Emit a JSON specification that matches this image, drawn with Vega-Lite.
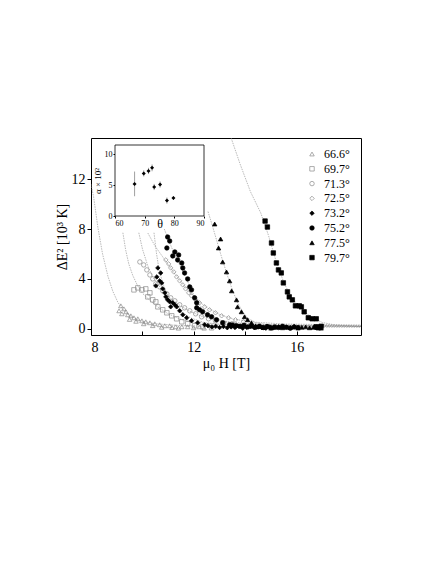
{
  "$schema": "https://vega.github.io/schema/vega-lite/v6.json",
  "width": 270,
  "height": 197,
  "autosize": {"type": "none"},
  "padding": {"left": 91, "top": 138, "right": 75, "bottom": 229},
  "background": "white",
  "config": {
    "font": "Liberation Serif",
    "view": {"stroke": "black", "strokeWidth": 1},
    "axis": {"labelFont": "Liberation Serif", "titleFont": "Liberation Serif", "labelColor": "black", "titleColor": "black", "tickColor": "black", "domainColor": "black", "grid": false, "titleFontWeight": "normal"},
    "legend": {"labelFont": "Liberation Serif", "labelColor": "black"}
  },
  "datasets": {
    "pts": [
      {"angle": "66.6°", "H": 9.16, "E2": 1.84}, {"angle": "66.6°", "H": 9.28, "E2": 1.6}, {"angle": "66.6°", "H": 9.09, "E2": 1.44}, {"angle": "66.6°", "H": 9.36, "E2": 1.36}, {"angle": "66.6°", "H": 9.43, "E2": 1.12}, {"angle": "66.6°", "H": 9.55, "E2": 1.04}, {"angle": "66.6°", "H": 9.67, "E2": 0.88}, {"angle": "66.6°", "H": 9.82, "E2": 0.8}, {"angle": "66.6°", "H": 9.98, "E2": 0.64}, {"angle": "66.6°", "H": 10.13, "E2": 0.56}, {"angle": "66.6°", "H": 10.29, "E2": 0.48}, {"angle": "66.6°", "H": 10.48, "E2": 0.4}, {"angle": "66.6°", "H": 10.67, "E2": 0.32}, {"angle": "66.6°", "H": 10.87, "E2": 0.24}, {"angle": "66.6°", "H": 11.06, "E2": 0.24}, {"angle": "66.6°", "H": 11.29, "E2": 0.16}, {"angle": "66.6°", "H": 11.53, "E2": 0.16}, {"angle": "66.6°", "H": 11.76, "E2": 0.16}, {"angle": "66.6°", "H": 11.99, "E2": 0.08}, {"angle": "66.6°", "H": 12.22, "E2": 0.16}, {"angle": "66.6°", "H": 9.2, "E2": 1.2}, {"angle": "66.6°", "H": 9.5, "E2": 0.75}, {"angle": "66.6°", "H": 9.75, "E2": 0.6}, {"angle": "66.6°", "H": 10.05, "E2": 0.4}, {"angle": "66.6°", "H": 10.4, "E2": 0.25}, {"angle": "66.6°", "H": 10.75, "E2": 0.12}, {"angle": "66.6°", "H": 11.15, "E2": 0.1}, {"angle": "66.6°", "H": 11.4, "E2": 0.05}, {"angle": "66.6°", "H": 12.4, "E2": 0.05},
      {"angle": "69.7°", "H": 9.67, "E2": 3.12}, {"angle": "69.7°", "H": 9.82, "E2": 3.28}, {"angle": "69.7°", "H": 9.98, "E2": 3.12}, {"angle": "69.7°", "H": 10.13, "E2": 3.2}, {"angle": "69.7°", "H": 10.29, "E2": 2.88}, {"angle": "69.7°", "H": 10.21, "E2": 2.56}, {"angle": "69.7°", "H": 10.4, "E2": 2.32}, {"angle": "69.7°", "H": 10.52, "E2": 2.16}, {"angle": "69.7°", "H": 10.6, "E2": 1.76}, {"angle": "69.7°", "H": 10.79, "E2": 1.52}, {"angle": "69.7°", "H": 10.95, "E2": 1.28}, {"angle": "69.7°", "H": 11.14, "E2": 1.04}, {"angle": "69.7°", "H": 11.33, "E2": 0.8}, {"angle": "69.7°", "H": 11.53, "E2": 0.56}, {"angle": "69.7°", "H": 11.76, "E2": 0.4}, {"angle": "69.7°", "H": 12.03, "E2": 0.24}, {"angle": "69.7°", "H": 12.34, "E2": 0.16}, {"angle": "69.7°", "H": 12.69, "E2": 0.08},
      {"angle": "71.3°", "H": 9.9, "E2": 5.36}, {"angle": "71.3°", "H": 10.05, "E2": 5.12}, {"angle": "71.3°", "H": 10.17, "E2": 4.72}, {"angle": "71.3°", "H": 10.29, "E2": 4.32}, {"angle": "71.3°", "H": 10.4, "E2": 4.0}, {"angle": "71.3°", "H": 10.52, "E2": 3.6}, {"angle": "71.3°", "H": 10.67, "E2": 3.36}, {"angle": "71.3°", "H": 10.79, "E2": 3.04}, {"angle": "71.3°", "H": 10.95, "E2": 2.8}, {"angle": "71.3°", "H": 11.1, "E2": 2.48}, {"angle": "71.3°", "H": 11.26, "E2": 2.24}, {"angle": "71.3°", "H": 11.45, "E2": 1.92}, {"angle": "71.3°", "H": 11.64, "E2": 1.68}, {"angle": "71.3°", "H": 11.84, "E2": 1.44}, {"angle": "71.3°", "H": 12.07, "E2": 1.2}, {"angle": "71.3°", "H": 12.3, "E2": 0.96}, {"angle": "71.3°", "H": 12.57, "E2": 0.8}, {"angle": "71.3°", "H": 12.84, "E2": 0.64}, {"angle": "71.3°", "H": 13.16, "E2": 0.48}, {"angle": "71.3°", "H": 13.5, "E2": 0.4},
      {"angle": "72.5°", "H": 10.91, "E2": 5.52}, {"angle": "72.5°", "H": 11.02, "E2": 5.2}, {"angle": "72.5°", "H": 11.1, "E2": 4.88}, {"angle": "72.5°", "H": 11.22, "E2": 4.56}, {"angle": "72.5°", "H": 11.33, "E2": 4.16}, {"angle": "72.5°", "H": 11.45, "E2": 3.84}, {"angle": "72.5°", "H": 11.57, "E2": 3.52}, {"angle": "72.5°", "H": 11.68, "E2": 3.2}, {"angle": "72.5°", "H": 11.8, "E2": 2.88}, {"angle": "72.5°", "H": 11.91, "E2": 2.64}, {"angle": "72.5°", "H": 12.07, "E2": 2.32}, {"angle": "72.5°", "H": 12.22, "E2": 2.08}, {"angle": "72.5°", "H": 12.42, "E2": 1.76}, {"angle": "72.5°", "H": 12.61, "E2": 1.52}, {"angle": "72.5°", "H": 12.84, "E2": 1.28}, {"angle": "72.5°", "H": 13.08, "E2": 1.04}, {"angle": "72.5°", "H": 13.35, "E2": 0.88}, {"angle": "72.5°", "H": 13.62, "E2": 0.72}, {"angle": "72.5°", "H": 13.93, "E2": 0.56},
      {"angle": "73.2°", "H": 10.6, "E2": 4.88}, {"angle": "73.2°", "H": 10.71, "E2": 4.48}, {"angle": "73.2°", "H": 10.56, "E2": 4.16}, {"angle": "73.2°", "H": 10.67, "E2": 3.84}, {"angle": "73.2°", "H": 10.75, "E2": 3.68}, {"angle": "73.2°", "H": 10.52, "E2": 3.44}, {"angle": "73.2°", "H": 10.79, "E2": 3.2}, {"angle": "73.2°", "H": 10.87, "E2": 2.88}, {"angle": "73.2°", "H": 10.91, "E2": 2.56}, {"angle": "73.2°", "H": 10.98, "E2": 2.32}, {"angle": "73.2°", "H": 11.06, "E2": 2.16}, {"angle": "73.2°", "H": 11.18, "E2": 2.08}, {"angle": "73.2°", "H": 11.26, "E2": 1.92}, {"angle": "73.2°", "H": 11.1, "E2": 1.76}, {"angle": "73.2°", "H": 11.33, "E2": 1.76}, {"angle": "73.2°", "H": 11.45, "E2": 1.44}, {"angle": "73.2°", "H": 11.57, "E2": 1.12}, {"angle": "73.2°", "H": 11.72, "E2": 0.88}, {"angle": "73.2°", "H": 11.91, "E2": 0.64}, {"angle": "73.2°", "H": 12.15, "E2": 0.48}, {"angle": "73.2°", "H": 12.42, "E2": 0.32}, {"angle": "73.2°", "H": 12.55, "E2": 0.25}, {"angle": "73.2°", "H": 12.7, "E2": 0.15}, {"angle": "73.2°", "H": 12.85, "E2": 0.2}, {"angle": "73.2°", "H": 13.0, "E2": 0.1}, {"angle": "73.2°", "H": 13.15, "E2": 0.18}, {"angle": "73.2°", "H": 13.3, "E2": 0.08}, {"angle": "73.2°", "H": 13.45, "E2": 0.15}, {"angle": "73.2°", "H": 13.6, "E2": 0.1}, {"angle": "73.2°", "H": 13.75, "E2": 0.2}, {"angle": "73.2°", "H": 13.9, "E2": 0.05}, {"angle": "73.2°", "H": 14.05, "E2": 0.12}, {"angle": "73.2°", "H": 14.2, "E2": 0.18}, {"angle": "73.2°", "H": 14.35, "E2": 0.08}, {"angle": "73.2°", "H": 14.5, "E2": 0.14}, {"angle": "73.2°", "H": 14.65, "E2": 0.1}, {"angle": "73.2°", "H": 14.8, "E2": 0.05}, {"angle": "73.2°", "H": 14.95, "E2": 0.15}, {"angle": "73.2°", "H": 15.1, "E2": 0.1},
      {"angle": "75.2°", "H": 10.98, "E2": 7.36}, {"angle": "75.2°", "H": 11.06, "E2": 7.04}, {"angle": "75.2°", "H": 10.95, "E2": 6.48}, {"angle": "75.2°", "H": 11.26, "E2": 6.16}, {"angle": "75.2°", "H": 11.18, "E2": 5.84}, {"angle": "75.2°", "H": 11.41, "E2": 5.92}, {"angle": "75.2°", "H": 11.37, "E2": 5.52}, {"angle": "75.2°", "H": 11.53, "E2": 5.28}, {"angle": "75.2°", "H": 11.57, "E2": 4.88}, {"angle": "75.2°", "H": 11.64, "E2": 4.48}, {"angle": "75.2°", "H": 11.76, "E2": 4.0}, {"angle": "75.2°", "H": 11.84, "E2": 3.36}, {"angle": "75.2°", "H": 11.91, "E2": 3.12}, {"angle": "75.2°", "H": 12.03, "E2": 2.48}, {"angle": "75.2°", "H": 12.11, "E2": 2.08}, {"angle": "75.2°", "H": 12.11, "E2": 1.68}, {"angle": "75.2°", "H": 12.22, "E2": 1.52}, {"angle": "75.2°", "H": 12.34, "E2": 1.36}, {"angle": "75.2°", "H": 12.53, "E2": 1.12}, {"angle": "75.2°", "H": 12.69, "E2": 0.96}, {"angle": "75.2°", "H": 12.88, "E2": 0.72}, {"angle": "75.2°", "H": 13.12, "E2": 0.48}, {"angle": "75.2°", "H": 13.39, "E2": 0.32}, {"angle": "75.2°", "H": 13.5, "E2": 0.3}, {"angle": "75.2°", "H": 13.65, "E2": 0.25}, {"angle": "75.2°", "H": 13.8, "E2": 0.2}, {"angle": "75.2°", "H": 13.95, "E2": 0.28}, {"angle": "75.2°", "H": 14.1, "E2": 0.15}, {"angle": "75.2°", "H": 14.25, "E2": 0.22}, {"angle": "75.2°", "H": 14.4, "E2": 0.12}, {"angle": "75.2°", "H": 14.55, "E2": 0.2}, {"angle": "75.2°", "H": 14.7, "E2": 0.1}, {"angle": "75.2°", "H": 14.85, "E2": 0.18}, {"angle": "75.2°", "H": 15.0, "E2": 0.08}, {"angle": "75.2°", "H": 15.15, "E2": 0.15}, {"angle": "75.2°", "H": 15.3, "E2": 0.1}, {"angle": "75.2°", "H": 15.45, "E2": 0.2}, {"angle": "75.2°", "H": 15.6, "E2": 0.12}, {"angle": "75.2°", "H": 15.75, "E2": 0.05}, {"angle": "75.2°", "H": 15.9, "E2": 0.14}, {"angle": "75.2°", "H": 16.05, "E2": 0.1},
      {"angle": "77.5°", "H": 12.81, "E2": 8.4}, {"angle": "77.5°", "H": 13.04, "E2": 7.2}, {"angle": "77.5°", "H": 12.96, "E2": 6.48}, {"angle": "77.5°", "H": 13.12, "E2": 5.36}, {"angle": "77.5°", "H": 13.27, "E2": 4.56}, {"angle": "77.5°", "H": 13.39, "E2": 3.84}, {"angle": "77.5°", "H": 13.47, "E2": 3.04}, {"angle": "77.5°", "H": 13.66, "E2": 2.32}, {"angle": "77.5°", "H": 13.7, "E2": 1.76}, {"angle": "77.5°", "H": 13.85, "E2": 1.36}, {"angle": "77.5°", "H": 13.97, "E2": 0.96}, {"angle": "77.5°", "H": 14.09, "E2": 0.72}, {"angle": "77.5°", "H": 14.24, "E2": 0.48}, {"angle": "77.5°", "H": 14.4, "E2": 0.24}, {"angle": "77.5°", "H": 14.55, "E2": 0.18}, {"angle": "77.5°", "H": 14.7, "E2": 0.1}, {"angle": "77.5°", "H": 14.85, "E2": 0.2}, {"angle": "77.5°", "H": 15.0, "E2": 0.05}, {"angle": "77.5°", "H": 15.15, "E2": 0.12}, {"angle": "77.5°", "H": 15.3, "E2": 0.18}, {"angle": "77.5°", "H": 15.45, "E2": 0.08}, {"angle": "77.5°", "H": 15.6, "E2": 0.15}, {"angle": "77.5°", "H": 15.75, "E2": 0.1}, {"angle": "77.5°", "H": 15.9, "E2": 0.2}, {"angle": "77.5°", "H": 16.05, "E2": 0.06}, {"angle": "77.5°", "H": 16.2, "E2": 0.12}, {"angle": "77.5°", "H": 16.35, "E2": 0.15}, {"angle": "77.5°", "H": 16.5, "E2": 0.08}, {"angle": "77.5°", "H": 16.65, "E2": 0.12}, {"angle": "77.5°", "H": 16.8, "E2": 0.1}, {"angle": "77.5°", "H": 16.95, "E2": 0.05},
      {"angle": "79.7°", "H": 14.77, "E2": 8.64}, {"angle": "79.7°", "H": 14.86, "E2": 8.16}, {"angle": "79.7°", "H": 15.02, "E2": 6.88}, {"angle": "79.7°", "H": 15.09, "E2": 6.08}, {"angle": "79.7°", "H": 15.21, "E2": 5.28}, {"angle": "79.7°", "H": 15.29, "E2": 4.72}, {"angle": "79.7°", "H": 15.4, "E2": 4.48}, {"angle": "79.7°", "H": 15.48, "E2": 3.68}, {"angle": "79.7°", "H": 15.64, "E2": 2.96}, {"angle": "79.7°", "H": 15.71, "E2": 2.56}, {"angle": "79.7°", "H": 15.83, "E2": 2.32}, {"angle": "79.7°", "H": 15.95, "E2": 1.84}, {"angle": "79.7°", "H": 16.1, "E2": 1.84}, {"angle": "79.7°", "H": 16.18, "E2": 1.76}, {"angle": "79.7°", "H": 16.29, "E2": 1.36}, {"angle": "79.7°", "H": 16.45, "E2": 0.88}, {"angle": "79.7°", "H": 16.6, "E2": 0.8}, {"angle": "79.7°", "H": 16.76, "E2": 0.8}, {"angle": "79.7°", "H": 16.76, "E2": 0.16}, {"angle": "79.7°", "H": 16.84, "E2": 0.08}, {"angle": "79.7°", "H": 16.95, "E2": 0.2}
    ],
    "lines": [
      {"angle": "66.6°", "H": 8.0, "E2": 11.6}, {"angle": "66.6°", "H": 8.1, "E2": 10.6}, {"angle": "66.6°", "H": 8.27, "E2": 8.1}, {"angle": "66.6°", "H": 8.45, "E2": 6.0}, {"angle": "66.6°", "H": 8.66, "E2": 4.2}, {"angle": "66.6°", "H": 8.85, "E2": 3.0}, {"angle": "66.6°", "H": 9.05, "E2": 2.1}, {"angle": "66.6°", "H": 9.3, "E2": 1.4}, {"angle": "66.6°", "H": 9.6, "E2": 0.95}, {"angle": "66.6°", "H": 10.0, "E2": 0.6}, {"angle": "66.6°", "H": 10.5, "E2": 0.4}, {"angle": "66.6°", "H": 11.5, "E2": 0.25}, {"angle": "66.6°", "H": 13.0, "E2": 0.18}, {"angle": "66.6°", "H": 15.0, "E2": 0.15}, {"angle": "66.6°", "H": 18.5, "E2": 0.12},
      {"angle": "69.7°", "H": 9.24, "E2": 7.7}, {"angle": "69.7°", "H": 9.35, "E2": 6.3}, {"angle": "69.7°", "H": 9.47, "E2": 5.2}, {"angle": "69.7°", "H": 9.62, "E2": 4.3}, {"angle": "69.7°", "H": 9.8, "E2": 3.5}, {"angle": "69.7°", "H": 10.0, "E2": 2.85}, {"angle": "69.7°", "H": 10.3, "E2": 2.25}, {"angle": "69.7°", "H": 10.6, "E2": 1.75}, {"angle": "69.7°", "H": 11.0, "E2": 1.2}, {"angle": "69.7°", "H": 11.5, "E2": 0.75}, {"angle": "69.7°", "H": 12.0, "E2": 0.5}, {"angle": "69.7°", "H": 13.0, "E2": 0.35}, {"angle": "69.7°", "H": 14.5, "E2": 0.25}, {"angle": "69.7°", "H": 18.5, "E2": 0.18},
      {"angle": "71.3°", "H": 9.86, "E2": 7.7}, {"angle": "71.3°", "H": 10.0, "E2": 6.4}, {"angle": "71.3°", "H": 10.2, "E2": 5.1}, {"angle": "71.3°", "H": 10.4, "E2": 4.15}, {"angle": "71.3°", "H": 10.7, "E2": 3.3}, {"angle": "71.3°", "H": 11.0, "E2": 2.6}, {"angle": "71.3°", "H": 11.4, "E2": 1.95}, {"angle": "71.3°", "H": 11.8, "E2": 1.45}, {"angle": "71.3°", "H": 12.3, "E2": 1.0}, {"angle": "71.3°", "H": 13.0, "E2": 0.65}, {"angle": "71.3°", "H": 14.0, "E2": 0.42}, {"angle": "71.3°", "H": 15.5, "E2": 0.3}, {"angle": "71.3°", "H": 18.5, "E2": 0.25},
      {"angle": "72.5°", "H": 10.21, "E2": 7.68}, {"angle": "72.5°", "H": 10.5, "E2": 6.6}, {"angle": "72.5°", "H": 10.9, "E2": 5.45}, {"angle": "72.5°", "H": 11.3, "E2": 4.3}, {"angle": "72.5°", "H": 11.7, "E2": 3.2}, {"angle": "72.5°", "H": 12.1, "E2": 2.35}, {"angle": "72.5°", "H": 12.5, "E2": 1.7}, {"angle": "72.5°", "H": 13.0, "E2": 1.15}, {"angle": "72.5°", "H": 13.5, "E2": 0.8}, {"angle": "72.5°", "H": 14.2, "E2": 0.55}, {"angle": "72.5°", "H": 15.5, "E2": 0.38}, {"angle": "72.5°", "H": 18.5, "E2": 0.3},
      {"angle": "73.2°", "H": 10.45, "E2": 7.7}, {"angle": "73.2°", "H": 10.55, "E2": 6.0}, {"angle": "73.2°", "H": 10.65, "E2": 4.7}, {"angle": "73.2°", "H": 10.8, "E2": 3.6}, {"angle": "73.2°", "H": 10.98, "E2": 2.7}, {"angle": "73.2°", "H": 11.2, "E2": 2.0}, {"angle": "73.2°", "H": 11.5, "E2": 1.35}, {"angle": "73.2°", "H": 11.9, "E2": 0.85}, {"angle": "73.2°", "H": 12.4, "E2": 0.5}, {"angle": "73.2°", "H": 13.2, "E2": 0.32}, {"angle": "73.2°", "H": 14.5, "E2": 0.24}, {"angle": "73.2°", "H": 18.5, "E2": 0.2},
      {"angle": "75.2°", "H": 10.85, "E2": 8.0}, {"angle": "75.2°", "H": 11.0, "E2": 7.2}, {"angle": "75.2°", "H": 11.2, "E2": 6.2}, {"angle": "75.2°", "H": 11.4, "E2": 5.3}, {"angle": "75.2°", "H": 11.6, "E2": 4.5}, {"angle": "75.2°", "H": 11.8, "E2": 3.6}, {"angle": "75.2°", "H": 12.0, "E2": 2.7}, {"angle": "75.2°", "H": 12.2, "E2": 1.95}, {"angle": "75.2°", "H": 12.5, "E2": 1.3}, {"angle": "75.2°", "H": 12.8, "E2": 0.9}, {"angle": "75.2°", "H": 13.2, "E2": 0.55}, {"angle": "75.2°", "H": 13.8, "E2": 0.38}, {"angle": "75.2°", "H": 15.0, "E2": 0.28}, {"angle": "75.2°", "H": 18.5, "E2": 0.22},
      {"angle": "77.5°", "H": 12.55, "E2": 9.4}, {"angle": "77.5°", "H": 12.7, "E2": 8.4}, {"angle": "77.5°", "H": 12.9, "E2": 7.0}, {"angle": "77.5°", "H": 13.1, "E2": 5.6}, {"angle": "77.5°", "H": 13.3, "E2": 4.3}, {"angle": "77.5°", "H": 13.5, "E2": 3.1}, {"angle": "77.5°", "H": 13.7, "E2": 2.1}, {"angle": "77.5°", "H": 13.9, "E2": 1.35}, {"angle": "77.5°", "H": 14.1, "E2": 0.85}, {"angle": "77.5°", "H": 14.4, "E2": 0.5}, {"angle": "77.5°", "H": 14.8, "E2": 0.32}, {"angle": "77.5°", "H": 15.5, "E2": 0.24}, {"angle": "77.5°", "H": 18.5, "E2": 0.18},
      {"angle": "79.7°", "H": 13.45, "E2": 15.3}, {"angle": "79.7°", "H": 13.8, "E2": 13.2}, {"angle": "79.7°", "H": 14.2, "E2": 11.0}, {"angle": "79.7°", "H": 14.6, "E2": 9.3}, {"angle": "79.7°", "H": 14.9, "E2": 7.5}, {"angle": "79.7°", "H": 15.2, "E2": 5.4}, {"angle": "79.7°", "H": 15.5, "E2": 3.7}, {"angle": "79.7°", "H": 15.8, "E2": 2.5}, {"angle": "79.7°", "H": 16.1, "E2": 1.75}, {"angle": "79.7°", "H": 16.4, "E2": 1.2}, {"angle": "79.7°", "H": 16.7, "E2": 0.8}, {"angle": "79.7°", "H": 17.0, "E2": 0.5}, {"angle": "79.7°", "H": 17.5, "E2": 0.3}, {"angle": "79.7°", "H": 18.5, "E2": 0.18}
    ],
    "inset": [
      {"theta": 66.6, "alpha": 5.2, "lo": 3.2, "hi": 7.2},
      {"theta": 69.7, "alpha": 6.9, "lo": 6.4, "hi": 7.4},
      {"theta": 71.3, "alpha": 7.3, "lo": 6.8, "hi": 7.8},
      {"theta": 72.5, "alpha": 7.8, "lo": 7.25, "hi": 8.35},
      {"theta": 73.2, "alpha": 4.7, "lo": 4.2, "hi": 5.2},
      {"theta": 75.2, "alpha": 5.1, "lo": 4.6, "hi": 5.6},
      {"theta": 77.5, "alpha": 2.5, "lo": 2.0, "hi": 3.0},
      {"theta": 79.7, "alpha": 2.9, "lo": 2.6, "hi": 3.2}
    ]
  },
  "layer": [
    {
      "layer": [
        {
          "data": {"name": "lines"},
          "mark": {"type": "line", "color": "#8a8a8a", "strokeWidth": 0.6, "strokeDash": [1.5, 1], "clip": true},
          "encoding": {
            "x": {"field": "H", "type": "quantitative", "scale": {"domain": [8, 18.5], "nice": false, "zero": false},
              "axis": {"title": "μ₀ H [T]", "values": [8, 10, 12, 14, 16], "labelExpr": "datum.value % 4 == 0 ? datum.label : ''", "domain": false, "tickSize": -4, "labelPadding": 9, "labelFontSize": 14, "titleFontSize": 14, "titlePadding": 2}},
            "y": {"field": "E2", "type": "quantitative", "scale": {"domain": [-0.5, 15.3], "nice": false, "zero": false},
              "axis": {"title": "ΔE² [10³ K]", "values": [0, 4, 8, 12], "domain": false, "tickSize": 4, "labelPadding": 2, "labelFontSize": 14, "titleFontSize": 14, "titlePadding": 2}},
            "detail": {"field": "angle", "type": "nominal"}
          }
        },
        {
          "data": {"name": "pts"},
          "mark": {"type": "point", "filled": true, "size": 20, "strokeWidth": 0.7, "opacity": 1, "clip": true},
          "encoding": {
            "x": {"field": "H", "type": "quantitative"},
            "y": {"field": "E2", "type": "quantitative"},
            "shape": {"field": "angle", "type": "nominal",
              "scale": {"domain": ["66.6°", "69.7°", "71.3°", "72.5°", "73.2°", "75.2°", "77.5°", "79.7°"], "range": ["triangle-up", "square", "circle", "diamond", "diamond", "circle", "triangle-up", "square"]},
              "legend": {"title": null, "orient": "none", "legendX": 215, "legendY": 10, "padding": 0, "labelFontSize": 12, "symbolSize": 20, "symbolStrokeWidth": 0.7, "rowPadding": 2.8, "labelOffset": 6}},
            "stroke": {"field": "angle", "type": "nominal",
              "scale": {"domain": ["66.6°", "69.7°", "71.3°", "72.5°", "73.2°", "75.2°", "77.5°", "79.7°"], "range": ["#8a8a8a", "#8a8a8a", "#8a8a8a", "#8a8a8a", "black", "black", "black", "black"]},
              "legend": {"title": null}},
            "fill": {"field": "angle", "type": "nominal",
              "scale": {"domain": ["66.6°", "69.7°", "71.3°", "72.5°", "73.2°", "75.2°", "77.5°", "79.7°"], "range": ["transparent", "transparent", "transparent", "transparent", "black", "black", "black", "black"]},
              "legend": {"title": null}}
          }
        }
      ]
    },
    {
      "layer": [
        {
          "data": {"values": [{}]},
          "mark": {"type": "rect", "fill": "white", "stroke": "black", "strokeWidth": 0.8},
          "encoding": {
            "x": {"datum": 60, "type": "quantitative", "scale": {"domain": [60, 90], "range": [24, 113], "nice": false, "zero": false},
              "axis": {"orient": "bottom", "offset": -119, "title": "θ", "values": [60, 70, 80, 90], "domain": false, "tickSize": 2, "labelPadding": 1, "labelFontSize": 8, "titleFontSize": 12, "titlePadding": -9}},
            "x2": {"datum": 90},
            "y": {"datum": 0, "type": "quantitative", "scale": {"domain": [0, 11.5], "range": [78, 7], "nice": false, "zero": false},
              "axis": {"orient": "left", "offset": -24, "title": "α × 10²", "values": [0, 5, 10], "domain": false, "tickSize": 2, "labelPadding": 1, "labelFontSize": 8, "titleFontSize": 9, "titlePadding": 2}},
            "y2": {"datum": 11.5}
          }
        },
        {
          "data": {"name": "inset"},
          "mark": {"type": "rule", "color": "#777", "strokeWidth": 0.7},
          "encoding": {
            "x": {"field": "theta", "type": "quantitative", "title": "θ"},
            "y": {"field": "lo", "type": "quantitative", "title": "α × 10²"},
            "y2": {"field": "hi"}
          }
        },
        {
          "data": {"name": "inset"},
          "mark": {"type": "point", "shape": "diamond", "filled": true, "color": "black", "size": 16, "opacity": 1},
          "encoding": {
            "x": {"field": "theta", "type": "quantitative", "title": "θ"},
            "y": {"field": "alpha", "type": "quantitative", "title": "α × 10²"}
          }
        }
      ]
    }
  ],
  "resolve": {"scale": {"x": "independent", "y": "independent"}, "axis": {"x": "independent", "y": "independent"}}
}
